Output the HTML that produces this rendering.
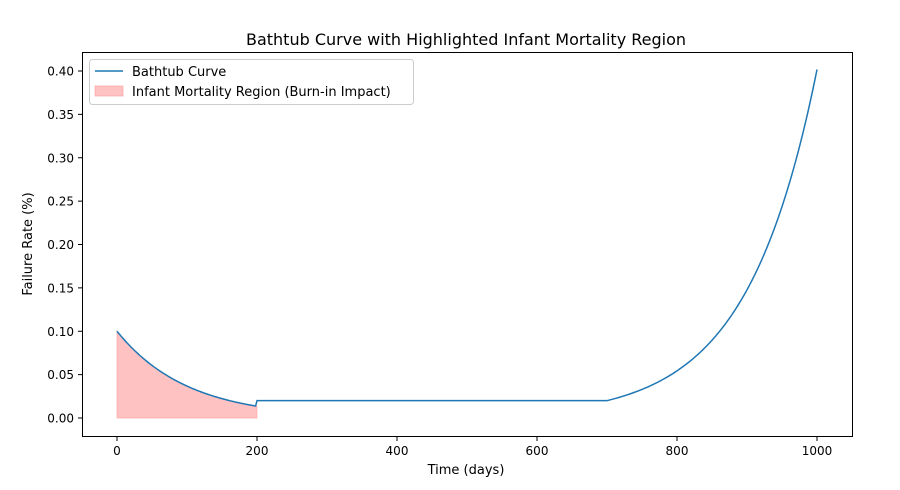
<!DOCTYPE html><html><head><style>body{margin:0;background:#fff}svg{font-family:"DejaVu Sans","Liberation Sans",sans-serif}</style></head><body>
<svg id="s" width="900" height="485" xmlns="http://www.w3.org/2000/svg">
<rect width="900" height="485" fill="#fff"/>
<text x="466" y="45" font-size="16" text-anchor="middle">Bathtub Curve with Highlighted Infant Mortality Region</text>
<path id="fill" fill="#ff9999" fill-opacity="0.6" stroke="#ff9999" stroke-opacity="0.6"/>
<path id="line" fill="none" stroke="#1f77b4" stroke-width="1.5"/>
<rect x="82.5" y="52.5" width="770" height="384" fill="none" stroke="#000" stroke-width="1"/>
<g id="ticks" font-size="12" fill="#000"></g>
<text x="466" y="474" font-size="13" text-anchor="middle">Time (days)</text>
<text transform="translate(32,244) rotate(-90)" font-size="13" text-anchor="middle">Failure Rate (%)</text>
<rect x="89.5" y="59.5" width="324" height="45" rx="3" fill="#fff" fill-opacity="0.8" stroke="#ccc"/>
<line x1="95" y1="71" x2="123" y2="71" stroke="#1f77b4" stroke-width="1.5"/>
<text x="132" y="76" font-size="13">Bathtub Curve</text>
<rect x="95" y="86" width="28" height="10" fill="#ff9999" fill-opacity="0.6" stroke="#ff9999" stroke-opacity="0.6"/>
<text x="132" y="96" font-size="13">Infant Mortality Region (Burn-in Impact)</text>
</svg>
<script>
var X=t=>117+t*0.7,Y=v=>418-v*867.5;
function f(t){return t<200?0.1*Math.exp(-t/100):t<700?0.02:0.02*Math.exp((t-700)/100);}
var d="",fd="M"+X(0)+","+Y(0);
for(var t=0;t<=1000;t+=2){d+=(t?"L":"M")+X(t).toFixed(2)+","+Y(f(t)).toFixed(2);if(t<200)fd+="L"+X(t).toFixed(2)+","+Y(f(t)).toFixed(2);}
fd+="L"+X(199.9)+","+Y(f(199.9))+"L"+X(199.9)+","+Y(0)+"Z";
document.getElementById("line").setAttribute("d",d);
document.getElementById("fill").setAttribute("d",fd);
var g=document.getElementById("ticks"),h="";
for(var i=0;i<=5;i++){var x=X(i*200);h+='<line x1="'+x+'" y1="437" x2="'+x+'" y2="441" stroke="#000"/><text x="'+x+'" y="455" text-anchor="middle">'+(i*200)+'</text>';}
for(var j=0;j<=8;j++){var y=Y(j*0.05);h+='<line x1="78" y1="'+y+'" x2="82" y2="'+y+'" stroke="#000"/><text x="74" y="'+(y+4.5)+'" text-anchor="end">'+(j*0.05).toFixed(2)+'</text>';}
g.innerHTML=h;
</script>
</body></html>
